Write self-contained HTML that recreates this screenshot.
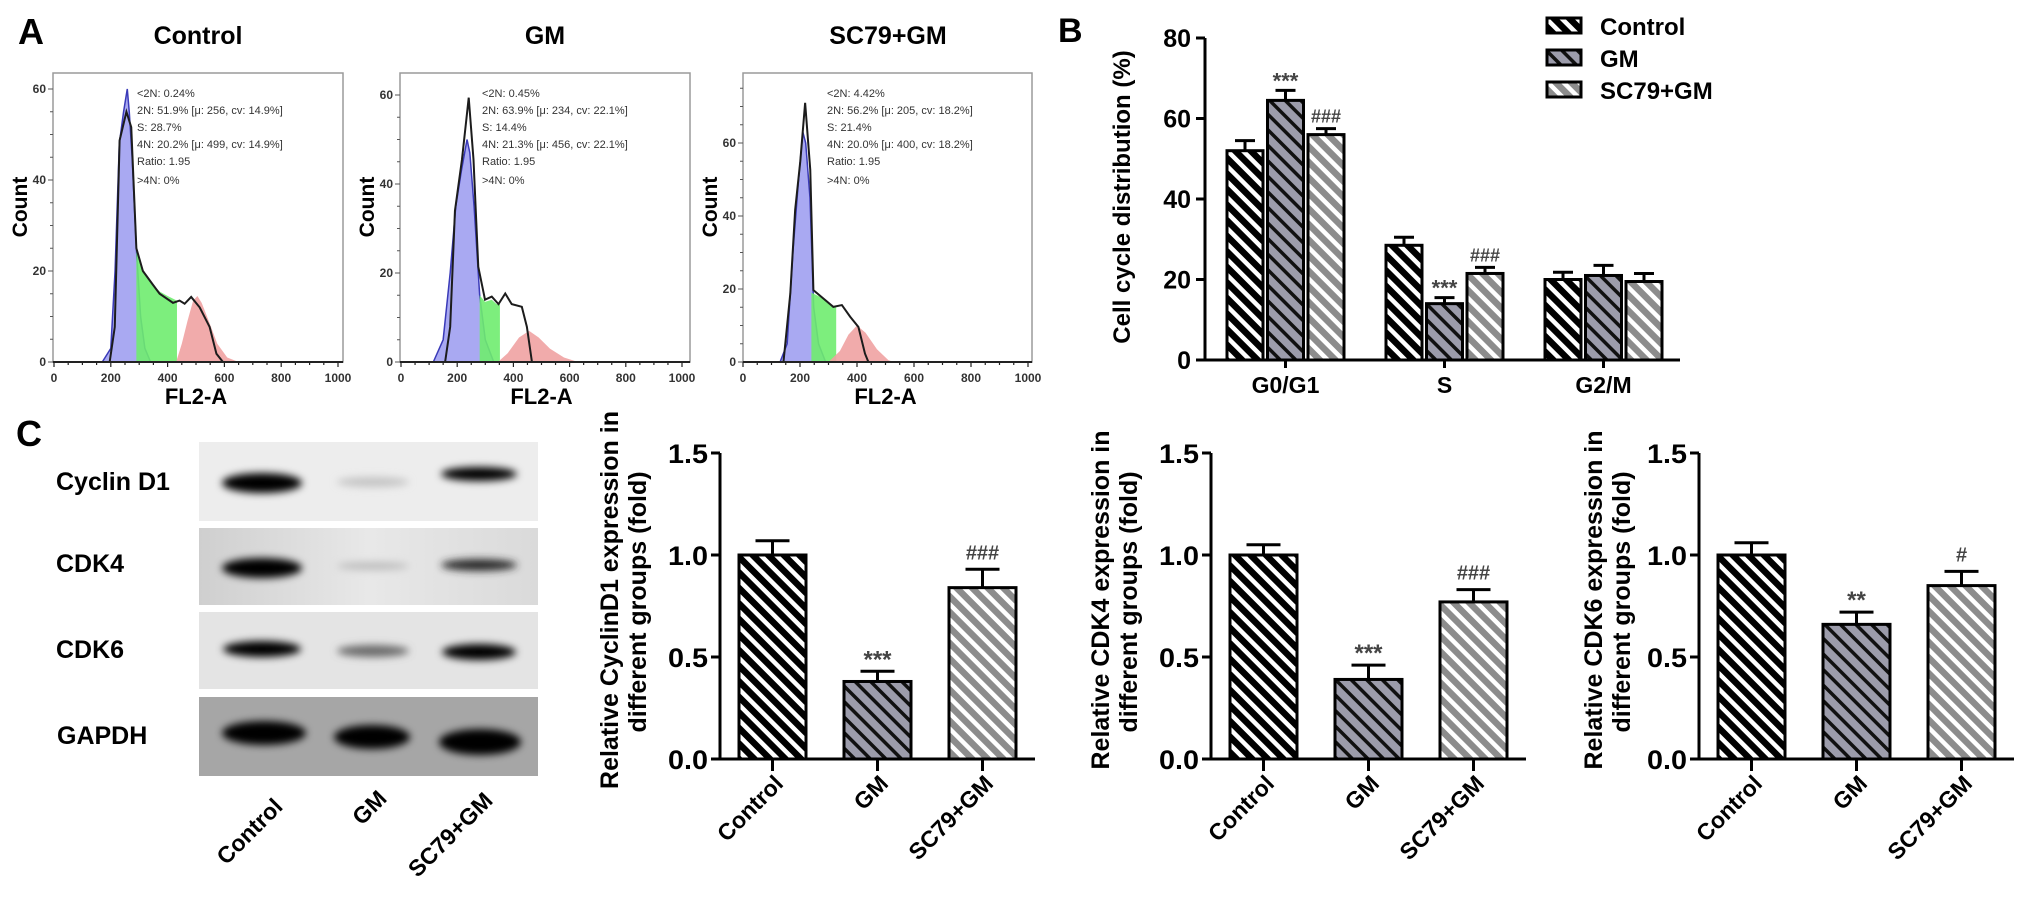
<!DOCTYPE html>
<html><head><meta charset="utf-8"><style>
html,body{margin:0;padding:0;background:#fff;}
svg{display:block;font-family:"Liberation Sans",Arial,sans-serif;}
</style></head><body>
<svg id="fig" width="2031" height="907" viewBox="0 0 2031 907" xmlns="http://www.w3.org/2000/svg">
<defs>
 <pattern id="patCtrl" patternUnits="userSpaceOnUse" width="11" height="11" patternTransform="rotate(-45)"><rect width="11" height="11" fill="#000"/><rect width="4.5" height="11" fill="#fff"/></pattern>
 <pattern id="patGM" patternUnits="userSpaceOnUse" width="11" height="11" patternTransform="rotate(-45)"><rect width="11" height="11" fill="#9c9cab"/><rect width="3.5" height="11" fill="#111"/></pattern>
 <pattern id="patSC" patternUnits="userSpaceOnUse" width="11" height="11" patternTransform="rotate(-45)"><rect width="11" height="11" fill="#8c8c8c"/><rect width="4.5" height="11" fill="#fff"/></pattern>
 <filter id="blur" x="-30%" y="-80%" width="160%" height="260%"><feGaussianBlur stdDeviation="4"/></filter>
 <linearGradient id="cdk4bg" x1="0" x2="1" y1="0" y2="0"><stop offset="0" stop-color="#cfcfcf"/><stop offset="0.5" stop-color="#e8e8e8"/><stop offset="1" stop-color="#dadada"/></linearGradient>
</defs>

<!-- panel letters -->
<text x="18" y="44" font-size="36" font-weight="bold">A</text>
<text x="1058" y="42" font-size="34" font-weight="bold">B</text>
<text x="16" y="446" font-size="36" font-weight="bold">C</text>

<!-- histogram titles -->
<text x="198" y="44" font-size="25" font-weight="bold" text-anchor="middle">Control</text>
<text x="545" y="44" font-size="25" font-weight="bold" text-anchor="middle">GM</text>
<text x="888" y="44" font-size="25" font-weight="bold" text-anchor="middle">SC79+GM</text>

<g id="histLayer"></g>
<g id="cycleLayer"></g>

<!-- legend panel B -->
<g>
 <rect x="1547" y="18" width="34" height="15" fill="url(#patCtrl)" stroke="#000" stroke-width="3"/>
 <text x="1600" y="35" font-size="24" font-weight="bold">Control</text>
 <rect x="1547" y="50" width="34" height="15" fill="url(#patGM)" stroke="#000" stroke-width="3"/>
 <text x="1600" y="67" font-size="24" font-weight="bold">GM</text>
 <rect x="1547" y="82" width="34" height="15" fill="url(#patSC)" stroke="#000" stroke-width="3"/>
 <text x="1600" y="99" font-size="24" font-weight="bold">SC79+GM</text>
</g>

<!-- western blot -->
<g>
 <rect x="199" y="442" width="339" height="79" fill="#ededed"/>
 <rect x="199" y="528" width="339" height="77" fill="url(#cdk4bg)"/>
 <rect x="199" y="612" width="339" height="77" fill="#e4e4e4"/>
 <rect x="199" y="697" width="339" height="79" fill="#a6a6a6"/>
 <g filter="url(#blur)">
  <ellipse cx="262" cy="483" rx="40" ry="10" fill="#000"/>
  <ellipse cx="373" cy="482" rx="36" ry="5" fill="#c4c4c4"/>
  <ellipse cx="479" cy="474" rx="38" ry="7" fill="#000"/>
  <ellipse cx="262" cy="568" rx="40" ry="10" fill="#000"/>
  <ellipse cx="373" cy="566" rx="36" ry="4" fill="#bdbdbd"/>
  <ellipse cx="479" cy="565" rx="38" ry="6" fill="#2a2a2a"/>
  <ellipse cx="262" cy="649" rx="39" ry="8" fill="#000"/>
  <ellipse cx="373" cy="651" rx="36" ry="6" fill="#6a6a6a"/>
  <ellipse cx="479" cy="652" rx="37" ry="8" fill="#050505"/>
  <ellipse cx="264" cy="733" rx="42" ry="12" fill="#000"/>
  <ellipse cx="372" cy="737" rx="38" ry="12" fill="#000"/>
  <ellipse cx="480" cy="742" rx="41" ry="13" fill="#000"/>
 </g>
 <text x="56" y="490" font-size="25" font-weight="bold">Cyclin D1</text>
 <text x="56" y="572" font-size="25" font-weight="bold">CDK4</text>
 <text x="56" y="658" font-size="25" font-weight="bold">CDK6</text>
 <text x="57" y="744" font-size="25" font-weight="bold">GAPDH</text>
 <text transform="translate(284,808) rotate(-45)" font-size="23" font-weight="bold" text-anchor="end">Control</text>
 <text transform="translate(388,800) rotate(-45)" font-size="23" font-weight="bold" text-anchor="end">GM</text>
 <text transform="translate(494,802) rotate(-45)" font-size="23" font-weight="bold" text-anchor="end">SC79+GM</text>
</g>

<g id="foldLayer"></g>

<script>
// ---------- Panel A: flow cytometry histogram data ----------
const histNames=['control','gm','sc79-gm'];
const histLineX1=[0,196,214,231,255,272,290,313,348,372,419,442,460,483,513,548,572,595,1000];
const histLineY1=[0,0,7.7,48.7,55,51.6,25,20,17,15,13,13.5,12.8,14.3,12,7.7,1.8,0,0];
const histBlueX1=[170,200,215,230,245,258,265,275,290,305,320,340];
const histBlueY1=[0,3,20,48,55,60,55,45,25,10,3,0];
const histGreenX1=[290,313,348,372,400,433,433,290];
const histGreenY1=[25,20,17,15.5,14.5,13.5,0,0];
const histRedX1=[430,450,470,490,505,520,545,575,610,650];
const histRedY1=[0,4,9,13.5,14.5,13,9,4,1,0];

const histLineX2=[0,157,175,192,217,241,258,275,299,323,347,371,394,430,448,466,1000];
const histLineY2=[0,0,7.9,34,45.5,59.4,45.5,21.4,14,14.7,13,15.4,13,12.4,7.9,0,0];
const histBlueX2=[115,150,175,195,215,235,245,260,280,300,330];
const histBlueY2=[0,5,20,35,43,50,47,35,15,5,0];
const histGreenX2=[280,299,323,340,352,352,280];
const histGreenY2=[15,13.5,14,13,13,0,0];
const histRedX2=[345,380,420,456,490,530,580,630];
const histRedY2=[0,2,5.5,7,5.5,3,1,0];

const histLineX3=[0,142,166,183,201,218,236,247,282,317,347,376,405,428,440,1000];
const histLineY3=[0,0,18.8,41.7,55,71,52.7,19.7,17.4,15.1,15.6,12.4,9.6,2.3,0,0];
const histBlueX3=[130,155,175,195,210,220,235,248,265,290];
const histBlueY3=[0,5,30,50,63,60,45,15,5,0];
const histGreenX3=[240,282,317,327,327,240];
const histGreenY3=[19,17.4,15.1,15,0,0];
const histRedX3=[300,340,370,400,430,470,510,530];
const histRedY3=[0,3,7.5,10,8,3.5,0.5,0];

const histStats1=['<2N: 0.24%','2N: 51.9%   [\u03bc: 256, cv: 14.9%]','S: 28.7%','4N: 20.2%   [\u03bc: 499, cv: 14.9%]','Ratio: 1.95','>4N: 0%'];
const histStats2=['<2N: 0.45%','2N: 63.9%   [\u03bc: 234, cv: 22.1%]','S: 14.4%','4N: 21.3%   [\u03bc: 456, cv: 22.1%]','Ratio: 1.95','>4N: 0%'];
const histStats3=['<2N: 4.42%','2N: 56.2%   [\u03bc: 205, cv: 18.2%]','S: 21.4%','4N: 20.0%   [\u03bc: 400, cv: 18.2%]','Ratio: 1.95','>4N: 0%'];
const histXTicks=[0,200,400,600,800,1000];
const histYTicks=[0,20,40,60];

// ---------- Panel B: cell cycle ----------
const cyclePhases=['G0/G1','S','G2/M'];
const cycleControl=[52,28.5,20];
const cycleControlErr=[2.5,2,1.8];
const cycleGM=[64.5,14,21];
const cycleGMErr=[2.5,1.5,2.5];
const cycleSC=[56,21.5,19.5];
const cycleSCErr=[1.5,1.5,2];
const cycleGMMarks=['***','***',''];
const cycleSCMarks=['###','###',''];
const cycleTicks=[0,20,40,60,80];

// ---------- Panel C: fold change ----------
const wbGroups=['Control','GM','SC79+GM'];
const cyclinD1Vals=[1.0,0.38,0.84];
const cyclinD1Err=[0.07,0.05,0.09];
const cyclinD1Marks=['','***','###'];
const cdk4Vals=[1.0,0.39,0.77];
const cdk4Err=[0.05,0.07,0.06];
const cdk4Marks=['','***','###'];
const cdk6Vals=[1.0,0.66,0.85];
const cdk6Err=[0.06,0.06,0.07];
const cdk6Marks=['','**','#'];
const foldTicks=[0,0.5,1.0,1.5];
const foldTickLabels=['0.0','0.5','1.0','1.5'];

const NS='http://www.w3.org/2000/svg';
function mk(tag,attrs,parent){const e=document.createElementNS(NS,tag);for(const k in attrs)e.setAttribute(k,attrs[k]);parent.appendChild(e);return e;}
const fills=['url(#patCtrl)','url(#patGM)','url(#patSC)'];
const groupKeys=['control','gm','sc79-gm'];

// ---- histograms ----
const histLayer=document.getElementById('histLayer');
const histCfg=[
 {left:53,right:343,top:73,bottom:362,x0:54,x1:338,perUnit:4.55,statX:137},
 {left:400,right:690,top:73,bottom:362,x0:401,x1:682,perUnit:4.45,statX:482},
 {left:743,right:1032,top:73,bottom:362,x0:743,x1:1028,perUnit:3.65,statX:827}];
const histSeries=[
 [histLineX1,histLineY1,histBlueX1,histBlueY1,histGreenX1,histGreenY1,histRedX1,histRedY1,histStats1],
 [histLineX2,histLineY2,histBlueX2,histBlueY2,histGreenX2,histGreenY2,histRedX2,histRedY2,histStats2],
 [histLineX3,histLineY3,histBlueX3,histBlueY3,histGreenX3,histGreenY3,histRedX3,histRedY3,histStats3]];
histCfg.forEach((c,i)=>{
 const s=histSeries[i];
 const sx=v=>c.x0+v/1000*(c.x1-c.x0);
 const sy=v=>c.bottom-v*c.perUnit;
 const g=mk('g',{},histLayer);
 
 
 const fr=mk('rect',{x:c.left,y:c.top,width:c.right-c.left,height:c.bottom-c.top,fill:'none',stroke:'#9a9a9a','stroke-width':1.5},g);
 
 
 const poly=(xs,ys,closeBase)=>{let p=xs.map((x,k)=>sx(x)+','+sy(ys[k])).join(' ');if(closeBase)p+=' '+sx(xs[xs.length-1])+','+sy(0)+' '+sx(xs[0])+','+sy(0);return p;};
 const blue=mk('polygon',{points:poly(s[2],s[3],true),fill:'#a9a9f2',stroke:'#3a3ab8','stroke-width':1.5},g);
 
 
 const green=mk('polygon',{points:poly(s[4],s[5],false),fill:'#6fec6f','fill-opacity':0.9},g);
 
 
 const red=mk('polygon',{points:poly(s[6],s[7],true),fill:'#f0a2a2','fill-opacity':0.9},g);
 
 
 const line=mk('polyline',{points:poly(s[0],s[1],false),fill:'none',stroke:'#1c1c1c','stroke-width':2},g);
 
 
 const ax=mk('line',{x1:c.left,x2:c.right,y1:c.bottom,y2:c.bottom,stroke:'#222','stroke-width':2},g);
 
 
 for(let m=0;m<=1000;m+=50){const t=mk('line',{x1:sx(m),x2:sx(m),y1:c.bottom,y2:c.bottom+(m%200===0?5:3),stroke:'#222','stroke-width':1.2},g);
  
  }
 histXTicks.forEach(v=>{const t=mk('text',{x:sx(v),y:c.bottom+20,'font-size':12,'font-weight':'bold','text-anchor':'middle',fill:'#333'},g);t.textContent=v;
  
  });
 for(let m=0;m*c.perUnit<=c.bottom-c.top;m+=5){const t=mk('line',{x1:c.left-(m%20===0?5:3),x2:c.left,y1:sy(m),y2:sy(m),stroke:'#555','stroke-width':1},g);
  
  }
 histYTicks.forEach(v=>{const t=mk('text',{x:c.left-7,y:sy(v)+4,'font-size':12,'font-weight':'bold','text-anchor':'end',fill:'#333'},g);t.textContent=v;
  
  });
 const yl=mk('text',{transform:'translate('+(c.left-26)+',207) rotate(-90)','font-size':21,'font-weight':'bold','text-anchor':'middle'},g);yl.textContent='Count';
 
 
 const xl=mk('text',{x:(c.x0+c.x1)/2,y:404,'font-size':22,'font-weight':'bold','text-anchor':'middle'},g);xl.textContent='FL2-A';
 
 
 const sy0=[97,114,131,148,165,184];
 s[8].forEach((str,k)=>{const t=mk('text',{x:c.statX,y:sy0[k],'font-size':11,fill:'#333','xml:space':'preserve'},g);t.textContent=str;
  
  });
});

// ---- panel B ----
const cyc=document.getElementById('cycleLayer');
const bAxisX=1205,bY0=360,bPer=4.025,bBarW=36,bStep=40.5,bGroupStep=159,bFirst=1227;
const byv=v=>bY0-v*bPer;
const bAxis=mk('path',{d:'M'+bAxisX+','+byv(80)+' V'+bY0+' H1680',fill:'none',stroke:'#000','stroke-width':3},cyc);


cycleTicks.forEach(v=>{
 const t=mk('line',{x1:bAxisX-9,x2:bAxisX,y1:byv(v),y2:byv(v),stroke:'#000','stroke-width':3},cyc);
 
 
 const l=mk('text',{x:bAxisX-14,y:byv(v)+9,'font-size':25,'font-weight':'bold','text-anchor':'end'},cyc);l.textContent=v;
 
 
});
const bTitle=mk('text',{transform:'translate(1130,197) rotate(-90)','font-size':24,'font-weight':'bold','text-anchor':'middle'},cyc);bTitle.textContent='Cell cycle distribution (%)';


const bVals=[cycleControl,cycleGM,cycleSC],bErrs=[cycleControlErr,cycleGMErr,cycleSCErr],bMarks=[null,cycleGMMarks,cycleSCMarks];
cyclePhases.forEach((ph,pi)=>{
 const gx=bFirst+pi*bGroupStep;
 const cx=gx+bStep+bBarW/2;
 const tk=mk('line',{x1:cx,x2:cx,y1:bY0,y2:bY0+8,stroke:'#000','stroke-width':3},cyc);
 
 
 const lab=mk('text',{x:cx,y:bY0+33,'font-size':23,'font-weight':'bold','text-anchor':'middle'},cyc);lab.textContent=ph;
 
 
 for(let gi=0;gi<3;gi++){
  const v=bVals[gi][pi],e=bErrs[gi][pi],x=gx+gi*bStep;
  const er=mk('path',{d:'M'+(x+bBarW/2)+','+byv(v)+' V'+byv(v+e)+' M'+(x+bBarW/2-10)+','+byv(v+e)+' H'+(x+bBarW/2+10),stroke:'#000','stroke-width':3,fill:'none'},cyc);
  
  
  const r=mk('rect',{x:x,y:byv(v),width:bBarW,height:v*bPer,fill:fills[gi],stroke:'#000','stroke-width':3},cyc);
  
  
  if(bMarks[gi]&&bMarks[gi][pi]){
   const m=mk('text',{x:x+bBarW/2,y:byv(v+e)-(bMarks[gi][pi][0]==='*'?2:6),'font-size':bMarks[gi][pi][0]==='*'?22:18,'font-weight':'bold','text-anchor':'middle',fill:'#444'},cyc);m.textContent=bMarks[gi][pi];
   
   
  }
 }
});

// ---- panel C charts ----
const fold=document.getElementById('foldLayer');
const cY0=759,cPer=204,cBarW=67,cStep=105,cOff=19;
const cyv=v=>cY0-v*cPer;
const foldCharts=[
 {axisX:720,vals:cyclinD1Vals,errs:cyclinD1Err,marks:cyclinD1Marks,t1:'Relative CyclinD1 expression in',tx:609,key:'cyclin-d1'},
 {axisX:1211,vals:cdk4Vals,errs:cdk4Err,marks:cdk4Marks,t1:'Relative CDK4 expression in',tx:1100,key:'cdk4'},
 {axisX:1699,vals:cdk6Vals,errs:cdk6Err,marks:cdk6Marks,t1:'Relative CDK6 expression in',tx:1593,key:'cdk6'}];
foldCharts.forEach(ch=>{
 const g=mk('g',{},fold);
 
 
 const endX=ch.axisX+cOff+2*cStep+cBarW+19;
 const ax=mk('path',{d:'M'+ch.axisX+','+cyv(1.5)+' V'+cY0+' H'+endX,fill:'none',stroke:'#000','stroke-width':3},g);
 
 
 foldTicks.forEach((v,k)=>{
  const t=mk('line',{x1:ch.axisX-9,x2:ch.axisX,y1:cyv(v),y2:cyv(v),stroke:'#000','stroke-width':3},g);
  
  
  const l=mk('text',{x:ch.axisX-12,y:cyv(v)+10,'font-size':27,'font-weight':'bold','text-anchor':'end',textLength:40,lengthAdjust:'spacingAndGlyphs'},g);l.textContent=foldTickLabels[k];
  
  
 });
 const t1=mk('text',{transform:'translate('+(ch.tx+9)+',600) rotate(-90)','font-size':25,'font-weight':'bold','text-anchor':'middle'},g);t1.textContent=ch.t1;
 
 
 const t2=mk('text',{transform:'translate('+(ch.tx+37)+',602) rotate(-90)','font-size':25,'font-weight':'bold','text-anchor':'middle'},g);t2.textContent='different groups (fold)';
 
 
 wbGroups.forEach((grp,gi)=>{
  const x=ch.axisX+cOff+gi*cStep,cx=x+cBarW/2,v=ch.vals[gi],e=ch.errs[gi];
  const er=mk('path',{d:'M'+cx+','+cyv(v)+' V'+cyv(v+e)+' M'+(cx-17)+','+cyv(v+e)+' H'+(cx+17),stroke:'#000','stroke-width':3,fill:'none'},g);
  
  
  const r=mk('rect',{x:x,y:cyv(v),width:cBarW,height:v*cPer,fill:fills[gi],stroke:'#000','stroke-width':3},g);
  
  
  const tk=mk('line',{x1:cx,x2:cx,y1:cY0,y2:cY0+12,stroke:'#000','stroke-width':3},g);
  
  
  const lab=mk('text',{transform:'translate('+(cx+12)+','+(cY0+26)+') rotate(-45)','font-size':23,'font-weight':'bold','text-anchor':'end'},g);lab.textContent=grp;
  
  
  if(ch.marks[gi]){
   const star=ch.marks[gi][0]==='*';
   const m=mk('text',{x:cx,y:cyv(v+e)-(star?4:10),'font-size':star?24:20,'font-weight':'bold','text-anchor':'middle',fill:'#444'},g);m.textContent=ch.marks[gi];
   
   
  }
 });
});
</script>
</svg>
</body></html>
